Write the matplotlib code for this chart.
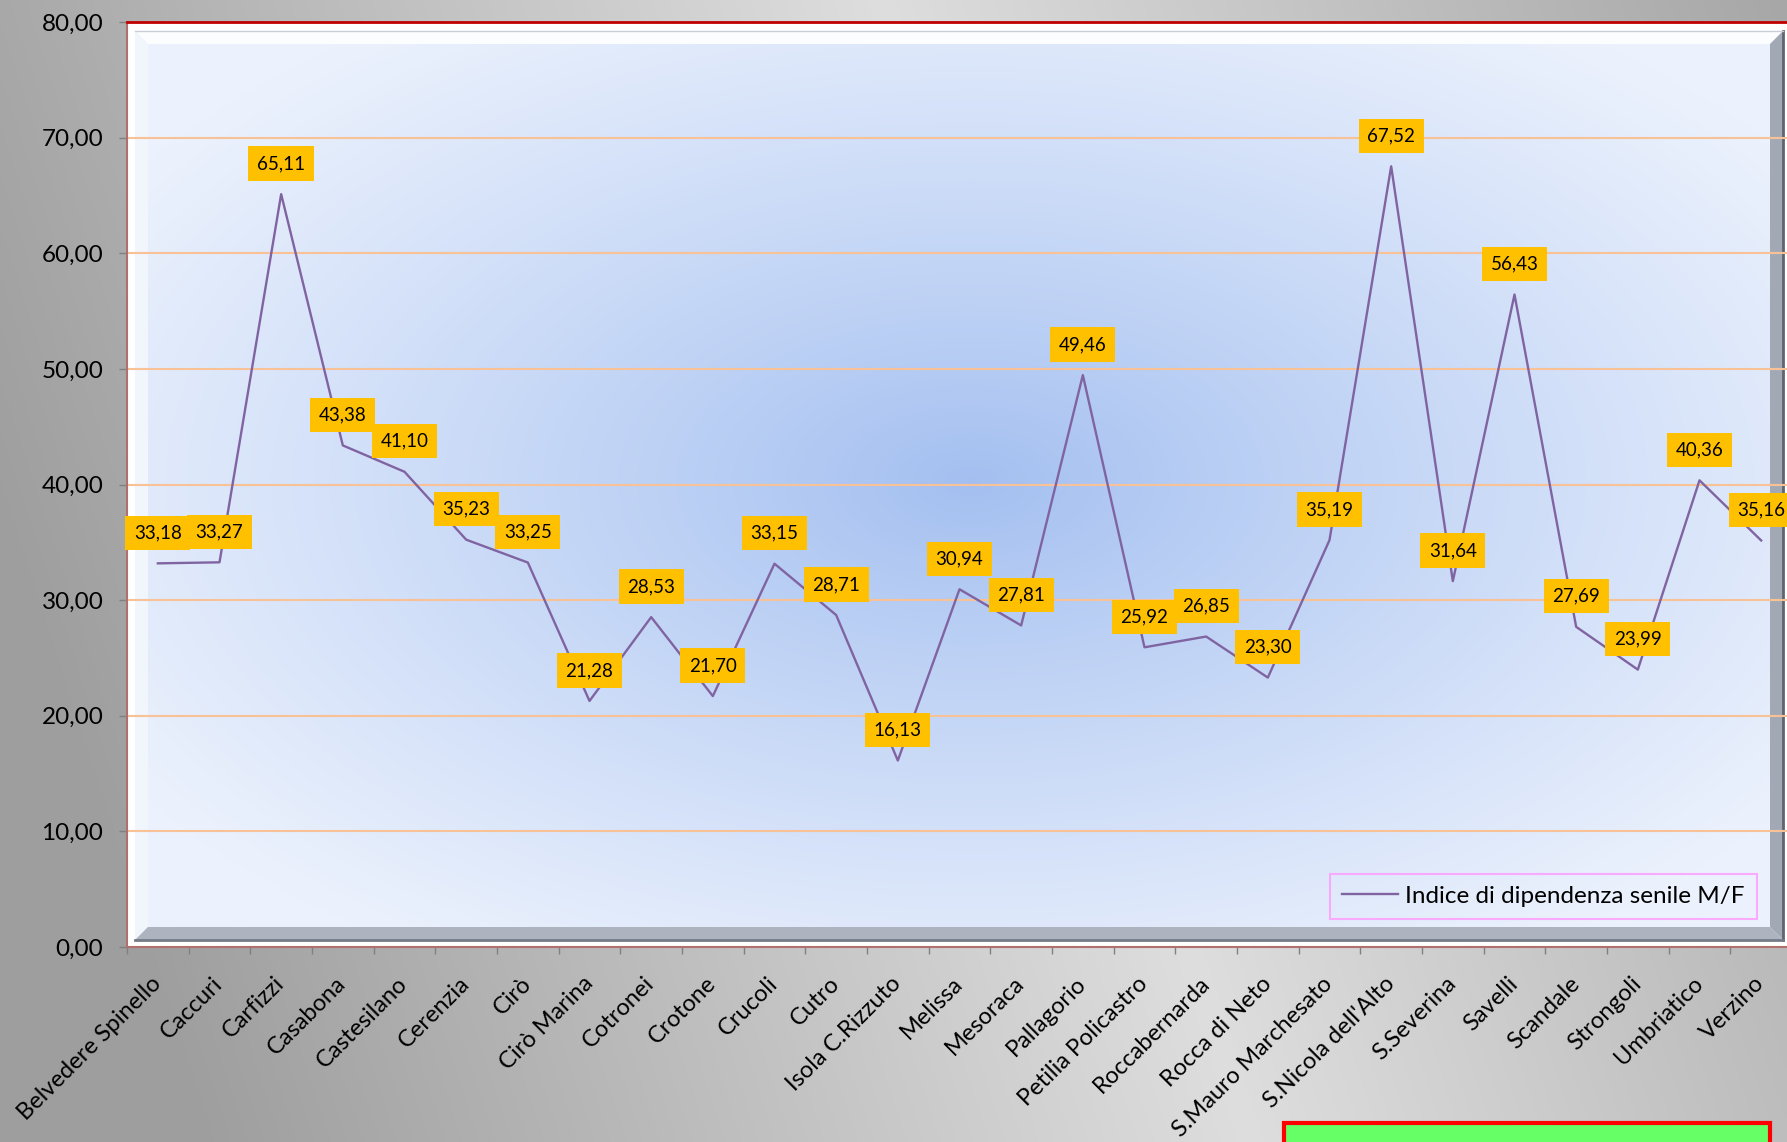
import numpy as np
import matplotlib
matplotlib.use('Agg')
import matplotlib.pyplot as plt
from matplotlib.patches import Polygon, Rectangle
from matplotlib.ticker import FixedLocator

comuni = ['Belvedere Spinello', 'Caccuri', 'Carfizzi', 'Casabona', 'Castesilano', 'Cerenzia',
          'Cirò', 'Cirò Marina', 'Cotronei', 'Crotone', 'Crucoli', 'Cutro', 'Isola C.Rizzuto',
          'Melissa', 'Mesoraca', 'Pallagorio', 'Petilia Policastro', 'Roccabernarda',
          'Rocca di Neto', 'S.Mauro Marchesato', "S.Nicola dell'Alto", 'S.Severina', 'Savelli',
          'Scandale', 'Strongoli', 'Umbriatico', 'Verzino']
indice = [33.18, 33.27, 65.11, 43.38, 41.10, 35.23, 33.25, 21.28, 28.53, 21.70, 33.15, 28.71,
          16.13, 30.94, 27.81, 49.46, 25.92, 26.85, 23.30, 35.19, 67.52, 31.64, 56.43, 27.69,
          23.99, 40.36, 35.16]
serie_label = 'Indice di dipendenza senile M/F'
yticks = np.arange(0, 81, 10)

plt.rcParams['font.family'] = ['Lato', 'DejaVu Sans']

W, H = 1787, 1142
L, R, T, B = 127, 1792, 22, 947  # plot area in pixels

fig = plt.figure(figsize=(W / 100, H / 100), dpi=100)

# --- grey figure background (diagonal light band)
bg = fig.add_axes([0, 0, 1, 1], zorder=-10)
yy, xx = np.mgrid[0:H:4, 0:W:4].astype(float)
d = ((xx - 880) * 1142 - yy * 370) / np.hypot(1142, 370)
t = np.clip(np.abs(d) / 1000, 0, 1)
g = 0.87 - 0.25 * t
bg.imshow(np.dstack([g, g, g]), extent=[0, W, H, 0], aspect='auto', interpolation='bilinear')
bg.set_xlim(0, W)
bg.set_ylim(H, 0)
bg.axis('off')

# --- main axes
ax = fig.add_axes([L / W, 1 - B / H, (R - L) / W, (B - T) / H])
ax.set_facecolor('white')


def apx(x, y):
    return ((x - L) / (R - L), (B - y) / (B - T))


# panel with radial blue gradient
px0, px1, py0, py1 = 135, 1783, 31, 940
yy, xx = np.mgrid[py0:py1:3, px0:px1:3].astype(float)
r = np.clip(np.hypot((xx - 970) / 1000, (yy - 480) / 560), 0, 1) ** 0.9
c0 = np.array([0xa3, 0xbf, 0xf0]) / 255
c1 = np.array([0xec, 0xf2, 0xfd]) / 255
img = c0 + (c1 - c0) * r[..., None]
a0 = apx(px0, py1)
a1 = apx(px1, py0)
ax.imshow(img, extent=[a0[0], a1[0], a0[1], a1[1]], transform=ax.transAxes,
          aspect='auto', interpolation='bilinear', zorder=0)

# bevel
bw = 13
bevel = [
    ([(px0, py0), (px1, py0), (px1 - bw, py0 + bw), (px0 + bw, py0 + bw)], '#fbfdff'),
    ([(px0, py0), (px0 + bw, py0 + bw), (px0 + bw, py1 - bw), (px0, py1)], '#f1f5fc'),
    ([(px1, py0), (px1, py1), (px1 - bw, py1 - bw), (px1 - bw, py0 + bw)], '#a3a9b4'),
    ([(px0, py1), (px1, py1), (px1 - bw, py1 - bw), (px0 + bw, py1 - bw)], '#aeb4bf'),
]
for pts, col in bevel:
    ax.add_patch(Polygon([apx(*p) for p in pts], closed=True, transform=ax.transAxes,
                         fc=col, ec='none', zorder=1))
ax.plot([apx(px1, py0)[0]] * 2, [apx(0, py0)[1], apx(0, py1)[1]], transform=ax.transAxes,
        color='#5f6570', lw=2, zorder=1.5)
ax.plot([apx(px0, 0)[0], apx(px1, 0)[0]], [apx(0, py1)[1]] * 2, transform=ax.transAxes,
        color='#757b86', lw=2, zorder=1.5)
ax.plot([apx(px0, 0)[0], apx(px1, 0)[0]], [apx(0, py0)[1]] * 2, transform=ax.transAxes,
        color='#c9ced8', lw=1, zorder=1.5)

x = np.arange(len(comuni))
ax.set_xlim(-0.5, len(comuni) - 0.5)
ax.set_ylim(0, 80)

for yv in yticks[1:-1]:
    ax.axhline(yv, color='#f9c196', lw=1.5, zorder=2)

ax.plot(x, indice, color='#8064a2', lw=1.7, zorder=3, label=serie_label)

for i, v in zip(x, indice):
    ax.annotate(f'{v:.2f}'.replace('.', ','), (i, v), xytext=(0, 22),
                textcoords='offset points', ha='center', va='center', fontsize=13.5,
                color='black', zorder=5,
                bbox=dict(boxstyle='square,pad=0.46', fc='#ffc000', ec='none'))

# ticks
ax.set_yticks(yticks)
ax.set_yticklabels([f'{v:.2f}'.replace('.', ',') for v in yticks], fontsize=17.5)
ax.tick_params(axis='y', length=6, width=1, color='#808080', pad=11)
ax.set_xticks(x)
ax.set_xticklabels(comuni, fontsize=17, rotation=45, ha='right', va='center',
                   rotation_mode='anchor')
ax.tick_params(axis='x', which='major', length=0, pad=24)
ax.xaxis.set_minor_locator(FixedLocator(np.arange(-0.5, len(comuni), 1)))
ax.tick_params(axis='x', which='minor', length=5, width=1, color='#808080')

for s in ['left', 'bottom', 'right']:
    ax.spines[s].set_color('#b07070')
    ax.spines[s].set_linewidth(1.5)
ax.spines['right'].set_visible(False)
ax.spines['top'].set_color('#c00000')
ax.spines['top'].set_linewidth(2)

leg = ax.legend(loc='lower right', bbox_to_anchor=apx(1757, 919), borderaxespad=0,
                fontsize=17.5, frameon=True, fancybox=False, handlelength=2.3,
                handletextpad=0.3, borderpad=0.5)
leg.get_frame().set_edgecolor('#ff99ff')
leg.get_frame().set_facecolor('none')
leg.get_frame().set_linewidth(1.5)
leg.set_zorder(6)

# green note box at the bottom (cut off)
fig.patches.append(Rectangle((1284 / W, -0.05), (1770 - 1284) / W, 0.05 + 1 - 1123 / H,
                             transform=fig.transFigure, fc='#66ff66', ec='#ff0000', lw=3,
                             zorder=5))

plt.savefig('out.png', dpi=100)
